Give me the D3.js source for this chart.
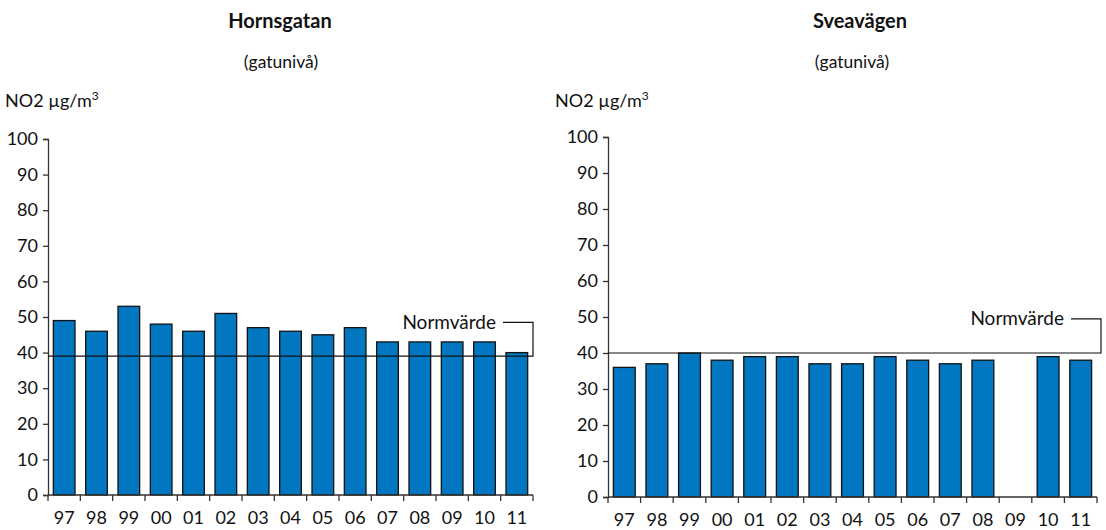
<!DOCTYPE html>
<html>
<head>
<meta charset="utf-8">
<script src="https://cdn.jsdelivr.net/npm/d3@7"></script>
<style>
  body { margin: 0; background: #fff; }
  text { font-family: Lato, "Open Sans", sans-serif; fill: #111; }
</style>
</head>
<body>
<div id="chart"></div>
<script>
const years = ["97", "98", "99", "00", "01", "02", "03", "04", "05", "06", "07", "08", "09", "10", "11"];
const hornsgatan = [49, 46, 53, 48, 46, 51, 47, 46, 45, 47, 43, 43, 43, 43, 40];
const sveavagen = [36, 37, 40, 38, 39, 39, 37, 37, 39, 38, 37, 38, null, 39, 38];
const yTicks = [0, 10, 20, 30, 40, 50, 60, 70, 80, 90, 100];
const normHornsgatan = 39;
const normSveavagen = 40;

const width = 1106;
const height = 530;

const svg = d3.select("#chart")
  .append("svg")
  .attr("width", width)
  .attr("height", height);

// one panel per station
function drawPanel(opts) {
  const g = svg.append("g");

  const x = d3.scaleBand()
    .domain(years)
    .range([opts.x0, opts.x1])
    .paddingInner(0.33)
    .paddingOuter(0.165);

  const y = d3.scaleLinear()
    .domain([0, 100])
    .range([opts.y0, opts.y1]);

  g.append("text")
    .attr("x", opts.titleX)
    .attr("y", 28)
    .attr("text-anchor", "middle")
    .style("font-weight", "bold")
    .style("font-size", "20px")
    .text(opts.title);

  g.append("text")
    .attr("x", opts.subX)
    .attr("y", 68)
    .attr("text-anchor", "middle")
    .style("font-size", "17.5px")
    .text("(gatunivå)");

  const unit = g.append("text")
    .attr("x", opts.labelX)
    .attr("y", 107)
    .style("font-size", "18px");
  unit.append("tspan").text("NO2 µg/m");
  unit.append("tspan").attr("dy", -7).style("font-size", "12px").text("3");

  // bars
  g.append("g")
    .selectAll("rect")
    .data(years.map((yr, i) => ({ yr, v: opts.values[i] })).filter(d => d.v != null))
    .join("rect")
    .attr("x", d => x(d.yr))
    .attr("y", d => y(d.v))
    .attr("width", x.bandwidth())
    .attr("height", d => y(0) - y(d.v))
    .attr("fill", "#0077c0")
    .attr("stroke", "#111")
    .attr("stroke-width", 1.3);

  // y axis
  const yAxis = g.append("g")
    .attr("transform", `translate(${opts.x0},0)`)
    .call(d3.axisLeft(y).tickValues(yTicks).tickSize(5).tickPadding(5));
  yAxis.selectAll("text").style("font-size", "18px").attr("fill", "#111");
  yAxis.select(".domain").attr("stroke", "#333").attr("stroke-width", 1.3);
  yAxis.selectAll(".tick line").attr("stroke", "#333").attr("stroke-width", 1.3);

  // x axis: ticks between the bands
  const xAxis = g.append("g")
    .attr("transform", `translate(0,${opts.y0})`);
  xAxis.append("line")
    .attr("x1", opts.x0).attr("x2", opts.x1)
    .attr("stroke", "#333").attr("stroke-width", 1.3);
  const step = x.step();
  xAxis.selectAll(".tk")
    .data(d3.range(years.length + 1))
    .join("line")
    .attr("class", "tk")
    .attr("x1", i => opts.x0 + i * step)
    .attr("x2", i => opts.x0 + i * step)
    .attr("y1", 0).attr("y2", 6)
    .attr("stroke", "#333").attr("stroke-width", 1.3);
  xAxis.selectAll("text")
    .data(years)
    .join("text")
    .attr("x", d => x(d) + x.bandwidth() / 2)
    .attr("y", 29)
    .attr("text-anchor", "middle")
    .style("font-size", "18px")
    .text(d => d);

  // normvärde line with bracket
  const ny = y(opts.norm);
  const bx = opts.x1 + opts.bracketOff;
  const labelY = y(opts.norm + 9.5);
  g.append("path")
    .attr("d", `M${opts.x0},${ny}H${bx}V${labelY}H${bx - 30}`)
    .attr("fill", "none")
    .attr("stroke", "#111")
    .attr("stroke-width", 1.2);
  g.append("text")
    .attr("x", bx - 37)
    .attr("y", labelY)
    .attr("dy", "0.35em")
    .attr("text-anchor", "end")
    .style("font-size", "19px")
    .text("Normvärde");
}

drawPanel({
  title: "Hornsgatan", titleX: 280, subX: 281, labelX: 5,
  x0: 48, x1: 533, y0: 495, y1: 139,
  values: hornsgatan, norm: normHornsgatan, bracketOff: 0
});

drawPanel({
  title: "Sveavägen", titleX: 860, subX: 852, labelX: 555,
  x0: 608, x1: 1097, y0: 497, y1: 137,
  values: sveavagen, norm: normSveavagen, bracketOff: 4
});
</script>
</body>
</html>
